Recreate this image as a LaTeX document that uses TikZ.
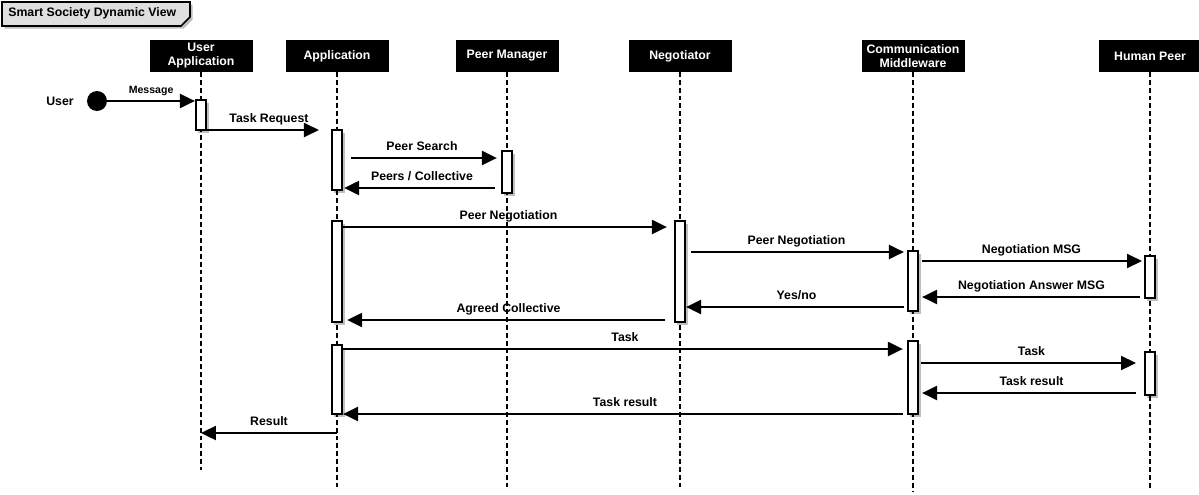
\documentclass[tikz,border=0pt]{standalone}
\usepackage{fontspec}
\setmainfont{Liberation Sans}
\usetikzlibrary{arrows.meta,shadows}

\begin{document}
\begin{tikzpicture}[x=0.02cm,y=-0.02cm,
    head/.style={draw,fill=black,text=white,font=\fontsize{7}{8}\selectfont\bfseries,align=center,minimum width=2.04cm,minimum height=0.62cm,inner sep=1pt},
    life/.style={draw,line width=0.8pt,dash pattern=on 2.8pt off 1.7pt},
    act/.style={draw,fill=white,line width=1pt,minimum width=0.21cm,inner sep=0pt,drop shadow={shadow xshift=1.5pt,shadow yshift=-1.5pt,fill=black,opacity=.25}},
    msg/.style={draw,line width=1.1pt,-{Triangle[length=8.5pt,width=8pt]}},
    lbl/.style={font=\fontsize{7}{8}\selectfont\bfseries,midway,above=1pt,inner sep=1pt,text height=5.5pt,text depth=1.5pt}]
    \useasboundingbox (0,0) rectangle (1199,494);

    % title tab
    \draw[fill=gray!25,line width=1pt,drop shadow={shadow xshift=1.5pt,shadow yshift=-1.5pt,fill=black,opacity=.25}] (2,2) -- (190,2) -- (190,17) -- (181,26) -- (2,26) -- cycle;
    \node[anchor=west,font=\fontsize{7}{8}\selectfont\bfseries,inner sep=0pt] (title) at (8,13) {Smart Society Dynamic View};

    % lanes
    \foreach \name/\x/\yend/\txt in {ua/201/470/{User\\Application},app/337/487/Application,pm/507/487/Peer Manager,neg/680/487/Negotiator,cm/913/492/{Communication\\Middleware},hp/1150/490/Human Peer}{
        \node[head] (\name) at (\x,56) {\txt};
        \coordinate (\name-end) at (\x,\yend);
        \draw[life] (\name.south) -- (\name-end);
    }

    % activations
    \foreach \name/\lane/\ya/\yb in {ua1/ua/100/130,app1/app/130/190,pm1/pm/151/193,app2/app/221/322,neg1/neg/221/322,cm1/cm/251/311,hp1/hp/256/298,app3/app/345/414,cm2/cm/341/414,hp2/hp/352/395}{
        \pgfmathsetmacro\ym{(\ya+\yb)/2}
        \pgfmathsetmacro\h{(\yb-\ya)*0.02}
        \node[act,minimum height=\h cm] (\name) at (\lane |- 0,\ym) {};
    }

    % user
    \node[anchor=east,font=\fontsize{7}{8}\selectfont\bfseries,inner sep=0pt] (user) at (74,101) {User};
    \node[circle,fill=black,minimum size=0.4cm,inner sep=0pt] (dot) at (97,101) {};
    \draw[msg] (dot.east) -- (ua1.west |- dot.east) node[lbl,font=\fontsize{6}{7}\selectfont\bfseries] {Message};

    % messages
    \foreach \a/\sa/\b/\sb/\y/\txt in {ua1.east/0/app1.west/6.8/130/Task Request,
        app1.east/4.5/pm1.west/2.3/158/Peer Search,
        pm1.west/3.4/app1.east/0.6/188/{Peers / Collective},
        app2.east/0/neg1.west/4/227/Peer Negotiation,
        neg1.east/2.8/cm1.west/1.7/252/Peer Negotiation,
        cm1.east/1.7/hp1.west/1.1/261/Negotiation MSG,
        hp1.west/2.3/cm1.east/1.7/297/Negotiation Answer MSG,
        cm1.west/1.7/neg1.east/0/307/{Yes/no},
        neg1.west/5.1/app2.east/2.3/320/Agreed Collective,
        app3.east/0/cm2.west/2.3/349/Task,
        cm2.east/1.1/hp2.west/4.5/363/Task,
        hp2.west/4.5/cm2.east/1.7/393/Task result,
        cm2.west/2.3/app3.east/0/414/Task result}{
        \draw[msg,shorten <=\sa pt,shorten >=\sb pt] (\a |- 0,\y) -- (\b |- 0,\y) node[lbl] {\txt};
    }
    \draw[msg] (app |- 0,433) -- (ua |- 0,433) node[lbl] {Result};
\end{tikzpicture}
\end{document}
